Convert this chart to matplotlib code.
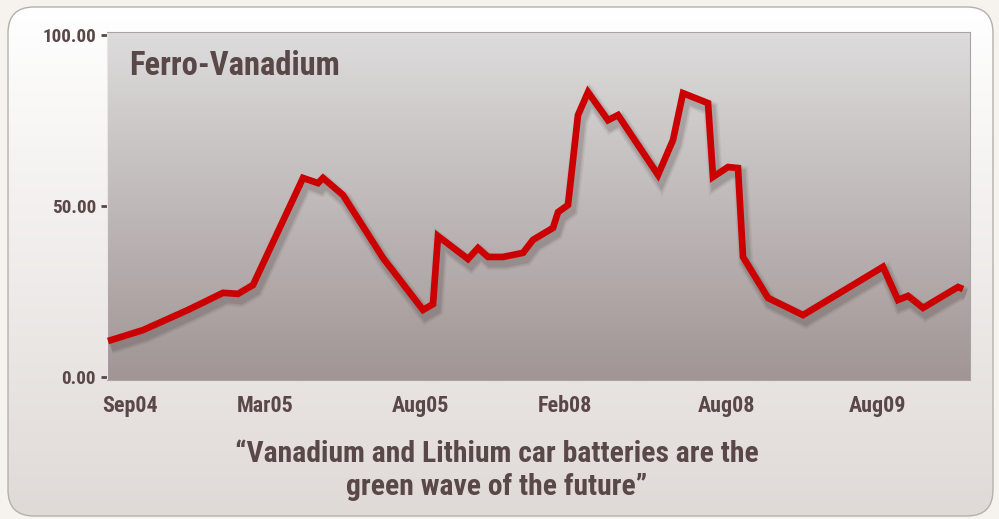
import numpy as np
import matplotlib.pyplot as plt
import matplotlib.patheffects as pe
from matplotlib.patches import FancyBboxPatch
from matplotlib import font_manager

# period index (irregular sampling) and Ferro-Vanadium price
periods = [0, 7, 16, 23, 26, 29, 39, 42, 43, 47, 55, 63, 65, 66, 72, 74, 76, 79,
           83, 85, 89, 90, 92, 94, 96, 100, 102, 110, 113, 115, 120, 121, 124,
           126, 127, 132, 139, 155, 158, 160, 163, 170, 171]
price = [10.5, 13.7, 19.6, 24.6, 24.3, 26.9, 58.2, 56.7, 58.2, 53.2, 34.8, 19.6,
         21.3, 41.2, 34.5, 37.7, 35.1, 35.1, 36.3, 40.1, 43.6, 48.2, 50.3, 76.6,
         83.3, 75.1, 76.6, 59.1, 69.3, 83.0, 80.1, 58.5, 61.4, 61.1, 35.1, 23.1,
         18.1, 32.2, 22.5, 23.7, 20.2, 26.3, 25.7]

tick_pos = [4.4, 31.4, 62.4, 91.4, 123.8, 154]
tick_lab = ['Sep04', 'Mar05', 'Aug05', 'Feb08', 'Aug08', 'Aug09']
y_ticks = [0, 50, 100]

title = 'Ferro-Vanadium'
caption = ['\u201cVanadium and Lithium car batteries are the',
           'green wave of the future\u201d']

txt_col = '#5a4848'

# pick a narrow font if one is there
names = {f.name for f in font_manager.fontManager.ttflist}
narrow = None
for cand in ['Roboto Condensed', 'Liberation Sans Narrow']:
    if cand in names:
        narrow = cand
        break
if narrow:
    font = [narrow, 'DejaVu Sans']
    stretch = 'normal'
    k = 1.0
else:
    font = ['DejaVu Sans']
    stretch = 'condensed'
    k = 0.85

fig = plt.figure(figsize=(9.99, 5.19), dpi=100)
fig.patch.set_facecolor('#f6f3ef')

# background panel with rounded corners and vertical gradient
bg = fig.add_axes([0, 0, 1, 1])
bg.set_xlim(0, 999)
bg.set_ylim(519, 0)
bg.axis('off')
panel = FancyBboxPatch((8, 7), 985, 509, boxstyle='round,pad=0,rounding_size=26',
                       facecolor='none', edgecolor='#b4b0ac', lw=1.0, zorder=2)
bg.add_patch(panel)
grad = np.linspace(0, 1, 256)[:, None]
top = np.array([255, 255, 255]) / 255
bot = np.array([224, 218, 215]) / 255
img = top + (bot - top) * grad[..., None]
im = bg.imshow(img, extent=(8, 993, 516, 7), aspect='auto', zorder=1)
im.set_clip_path(panel)

# caption, one text per line
bg.text(497, 462, caption[0], ha='center', va='baseline', fontsize=21.3 * k,
        family=font, stretch=stretch, weight='bold', color=txt_col, zorder=3)
bg.text(497, 495, caption[1], ha='center', va='baseline', fontsize=21.3 * k,
        family=font, stretch=stretch, weight='bold', color=txt_col, zorder=3)

# main plot
ax = fig.add_axes([107 / 999, 1 - 380 / 519, 863 / 999, 348 / 519])
ax.set_xlim(-0.2, 172.4)
ax.set_ylim(-0.9, 100.9)

top2 = np.array([221, 220, 220]) / 255
bot2 = np.array([161, 149, 149]) / 255
img2 = top2 + (bot2 - top2) * grad[..., None]
ax.imshow(img2, extent=(-0.2, 172.4, -0.9, 100.9), aspect='auto', zorder=0)

# soft drop shadow: a few wide faint strokes under the line
shadow = [pe.SimpleLineShadow(offset=(2, -4), shadow_color='#3a2a2a',
                              alpha=a, linewidth=w)
          for w, a in [(11, 0.06), (9, 0.08), (7, 0.12)]]
ax.plot(periods, price, color='#cc0000', lw=4.8, solid_joinstyle='miter',
        solid_capstyle='butt', zorder=3,
        path_effects=shadow + [pe.Normal()])

for s in ax.spines.values():
    s.set_color('#a8a4a4')
    s.set_linewidth(0.8)
ax.spines['left'].set_color('#e8e6e6')

ax.set_yticks(y_ticks)
ax.set_yticklabels(['%.2f' % v for v in y_ticks])
ax.set_xticks(tick_pos)
ax.set_xticklabels(tick_lab)
ax.tick_params(axis='y', direction='out', length=4, width=2, color=txt_col, pad=4)
ax.tick_params(axis='x', length=0, pad=11)
for lab in ax.get_yticklabels():
    lab.set_fontsize(13.8 * k)
for lab in ax.get_xticklabels():
    lab.set_fontsize(15.8 * k)
for lab in ax.get_xticklabels() + ax.get_yticklabels():
    lab.set_family(font)
    lab.set_stretch(stretch)
    lab.set_weight('bold')
    lab.set_color(txt_col)

ax.text(0.026, (380 - 75) / 348, title, transform=ax.transAxes,
        fontsize=23.5 * k, family=font, stretch=stretch,
        weight='bold', color=txt_col, ha='left', va='baseline')

fig.savefig('out.png', dpi=100, facecolor=fig.get_facecolor())
